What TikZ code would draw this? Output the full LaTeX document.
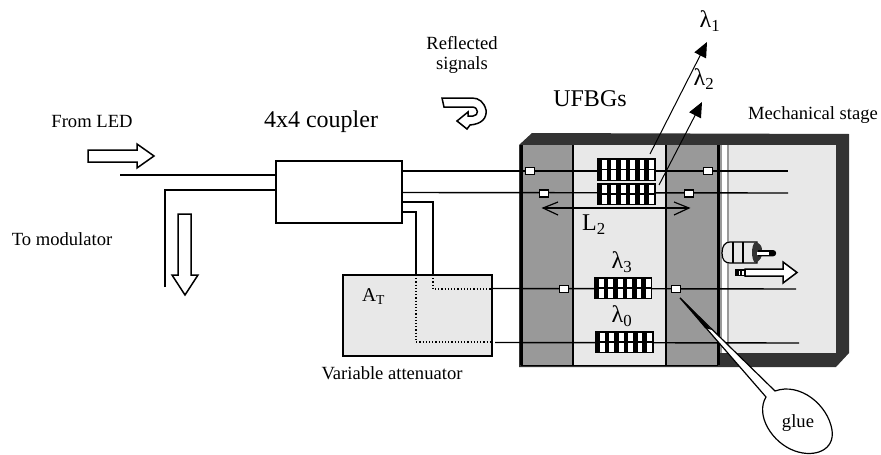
\documentclass[tikz,border=0pt]{standalone}
\usepackage{fontspec}
\setmainfont{Liberation Serif}
\usetikzlibrary{arrows.meta}
\definecolor{lightp}{HTML}{E8E8E8}
\definecolor{midp}{HTML}{999999}
\definecolor{darkf}{HTML}{333333}
\tikzset{
  fibre/.style={line width=1.4pt,black},
  dotf/.style={line width=1.3pt,black,dash pattern=on 1.2pt off 2pt},
  boxl/.style={draw=black,line width=1.5pt},
  blockarrow/.style={draw=black,line width=1.5pt,fill=white,line join=miter},
  splice/.style={draw=black,line width=1.3pt,fill=white,minimum width=9.5pt,minimum height=7pt,inner sep=0pt},
  txt/.style={inner sep=0pt,align=center},
  beam/.style={line width=1pt,-{Triangle[length=15pt,width=13pt]}},
  small/.style={txt,font=\fontsize{18.6}{20}\selectfont},
  big/.style={txt,font=\fontsize{24}{26}\selectfont},
}
\newcommand{\grating}[5]{% x1 y1 x2 y2 n
  \fill[black] (#1,#2) rectangle (#3,#4);
  \foreach \k in {1,...,#5}{
    \pgfmathsetmacro{\xa}{#1+5+(\k-1)*9.4}
    \pgfmathsetmacro{\xb}{\xa+4.8}
    \fill[white] (\xa,#2+1.5) rectangle (\xb,#4-1.5);
  }
  \draw[black,line width=1.4pt] (#1,{(#2+#4)/2}) -- (#3,{(#2+#4)/2});
}
\begin{document}
\begin{tikzpicture}[x=1pt,y=-1pt]
\useasboundingbox (0,0) rectangle (881,455);
% stage
\fill[darkf] (519,145) -- (532,133) -- (849,134) -- (849,353) -- (836,367) -- (519,367) -- cycle;
\fill[lightp] (729,145) rectangle (836,353);
\fill[lightp] (573,145) rectangle (666,366);
\fill[midp] (521,145) rectangle (573,365);
\fill[midp] (666,145) rectangle (718,365);
\fill[midp] (720,145) rectangle (722,353);
\fill[white] (722,145) rectangle (727,353);
\fill[midp] (727,145) rectangle (729,353);
\draw[line width=3pt] (521,145) -- (521,365);
\draw[line width=1.4pt] (521,365.5) -- (718,365.5);
\draw[line width=1.2pt] (573,145) -- (573,365);
\draw[line width=1.2pt] (666,145) -- (666,365);
\draw[line width=2.4pt] (718.5,145) -- (718.5,365);
% fibres
\coordinate (e1) at (788,171);
\coordinate (e2) at (788,193);
\coordinate (e3) at (796,289);
\coordinate (e4) at (799,343);
\coordinate (in1) at (120,175);
\coordinate (out2) at (165,287);
% coupler
\node[boxl,fill=white,minimum width=126pt,minimum height=62pt,inner sep=0pt] (cp) at (339,192) {};
\node[boxl,fill=lightp,minimum width=149pt,minimum height=81pt,inner sep=0pt] (att) at (417.5,315.5) {};
\draw[fibre] (in1) -- (in1 -| cp.west);
\draw[fibre] (out2) -- (165,190) -- (276,190);
\draw[fibre] (402,171) -- (e1);
\draw[fibre] (402,192.5) -- (e2);
\draw[fibre] (402,202) -- (433,202) -- (433,275);
\draw[fibre] (402,212) -- (416,212) -- (416,275);
\draw[dotf] (433,275) -- (433,289) -- (492,289);
\draw[dotf] (416,275) -- (416,342) -- (492,342);
\draw[fibre] (492,288.5) -- (e3);
\draw[fibre] (495,342.5) -- (e4);
% gratings
\grating{597}{158}{656}{181}{6}
\grating{597}{183}{656}{205}{6}
\grating{594}{277}{652}{299}{6}
\grating{595}{331}{654}{353}{6}
% splices
\node[splice] (s1) at (530,171) {};
\node[splice] (s2) at (708,171) {};
\node[splice] (s3) at (544,193.5) {};
\node[splice] (s4) at (689,193.5) {};
\node[splice] (s5) at (564,289) {};
\node[splice] (s6) at (676,289) {};
% beams
\coordinate (b1a) at (650,154);
\coordinate (b1b) at (707,42);
\coordinate (b2a) at (659,185);
\coordinate (b2b) at (702,102);
\draw[beam] (b1a) -- (b1b);
\draw[beam] (b2a) -- (b2b);
\coordinate (la) at (543,208);
\coordinate (lb) at (689,208);
\draw[line width=1.2pt] (la) -- (lb);
\draw[line width=1.2pt] (558,202) -- (la) -- (558,215);
\draw[line width=1.2pt] (674,202) -- (lb) -- (674,215);
% block arrows
\draw[blockarrow] (88,150) -- (137,150) -- (137,144) -- (154,156) -- (137,168) -- (137,162) -- (88,162) -- cycle;
\draw[blockarrow] (178,214) -- (191,214) -- (191,275) -- (198,275) -- (185,295) -- (172,275) -- (178,275) -- cycle;
% U-turn
\draw[blockarrow] (442,98) -- (444,107) -- (472,107) .. controls (479,107) and (479,116) .. (473,116) -- (468,116) -- (468,112) -- (457,121) -- (467,129) -- (470,125) .. controls (482,124) and (487,118) .. (486,110) .. controls (484,102) and (479,98) .. (472,98) -- cycle;
% actuator
\draw[line width=1.2pt,fill=lightp] (730,242) .. controls (725,242) and (722,246) .. (722,253) .. controls (722,260) and (725,263) .. (730,263) -- (757,263) -- (757,242) -- cycle;
\fill[darkf] (755,242) .. controls (751,246) and (751,259) .. (755,263) .. controls (760,261) and (763,257) .. (762,250) .. controls (762,246) and (760,243) .. (755,242) -- cycle;
\draw[line width=1.2pt] (733,242) -- (733,263) (743,242) -- (743,263);
\fill[black] (758,250) -- (773,250) arc[start angle=90,end angle=-90,radius=3.2pt] -- (758,256.4) -- cycle;
\fill[white] (757,251.5) rectangle (769,254.8);
% stage arrow
\fill[black] (735,269) rectangle (745,276);
\fill[white] (738.5,270.5) rectangle (740,274.5);
\fill[white] (742,270.5) rectangle (744,274.5);
\draw[blockarrow] (745,269) -- (783,269) -- (783,262) -- (797,272.5) -- (783,283) -- (783,276) -- (745,276) -- cycle;
% callout
\draw[line width=1.2pt,fill=white] (680,298) -- (775,391) .. controls (800,382) and (828,405) .. (832,430) .. controls (835,450) and (815,458) .. (795,451) .. controls (772,443) and (755,415) .. (766,397) -- cycle;
\fill[black] (680,297) -- (712,330) -- (705,328) -- cycle;
% text
\node[small] (tled) at (92,121) {From LED};
\node[small] (tmod) at (62,239) {To modulator};
\node[big] (tcp) at (321,122) {4x4 coupler};
\node[small] (trf) at (462,55) {Reflected\\signals};
\node[big] (tub) at (590,99) {UFBGs};
\node[small] (tms) at (813,115) {Mechanical stage};
\node[small] (tva) at (392,373) {Variable attenuator};
\node[small] (tgl) at (798,423) {glue};
\node[small,font=\fontsize{19.5}{20}\selectfont] (tat) at (373.5,297) {A\textsubscript{T}};
\node[big] (tl2) at (594,225) {L\textsubscript{2}};
\node[big] (l1) at (710,21) {λ\textsubscript{1}};
\node[big] (l2) at (704,79) {λ\textsubscript{2}};
\node[big] (l3) at (622,262) {λ\textsubscript{3}};
\node[big] (l0) at (622,316) {λ\textsubscript{0}};
\end{tikzpicture}
\end{document}
